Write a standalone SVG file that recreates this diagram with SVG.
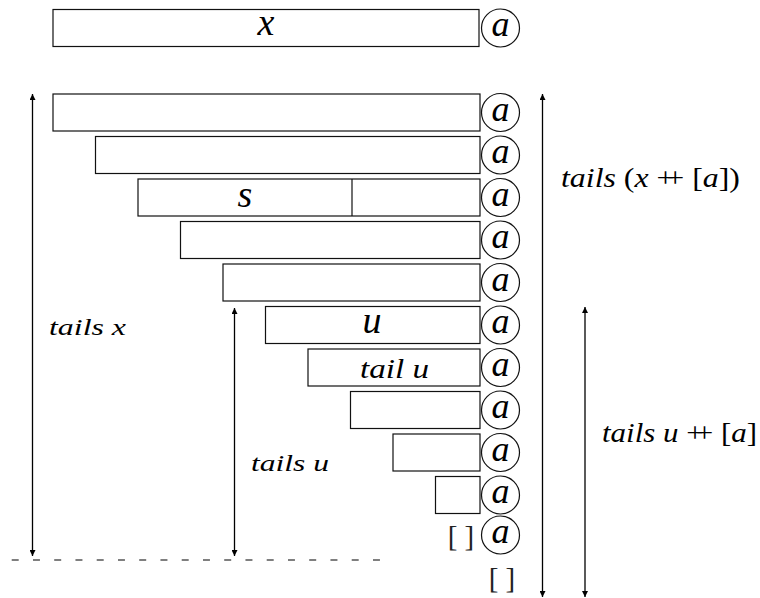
<svg xmlns="http://www.w3.org/2000/svg" width="760" height="598" viewBox="0 0 760 598">
<style>
.box{fill:#fff;stroke:#111;stroke-width:1.2}
.circ{fill:none;stroke:#111;stroke-width:1.2}
.arr{stroke:#000;stroke-width:1.3;fill:none}
</style>
<defs>
<marker id="ah" viewBox="0 0 10 10" refX="10" refY="5" markerWidth="9" markerHeight="6" markerUnits="userSpaceOnUse" orient="auto-start-reverse">
<path d="M0,0 L10,5 L0,10 z" fill="#000"/>
</marker>
</defs>

<g id="top">
<rect class="box" x="53" y="9.5" width="426" height="37"/>
<text x="266" y="35" font-family="Liberation Serif" font-size="38" font-style="italic" text-anchor="middle">x</text>
<circle class="circ" cx="500.5" cy="28" r="19"/>
<text x="500.5" y="36" font-family="Liberation Serif" font-size="36" font-style="italic" text-anchor="middle">a</text>
</g>
<g id="row1">
<rect class="box" x="53" y="94" width="427" height="37"/>
<circle class="circ" cx="500.5" cy="112.5" r="19"/>
<text x="500.5" y="120.5" font-family="Liberation Serif" font-size="36" font-style="italic" text-anchor="middle">a</text>
</g>
<g id="row2">
<rect class="box" x="95.5" y="136.5" width="384.5" height="37"/>
<circle class="circ" cx="500.5" cy="155" r="19"/>
<text x="500.5" y="163" font-family="Liberation Serif" font-size="36" font-style="italic" text-anchor="middle">a</text>
</g>
<g id="row3">
<rect class="box" x="138" y="179" width="342" height="37"/>
<line class="box" x1="352" y1="179" x2="352" y2="216"/>
<text x="245" y="207" font-family="Liberation Serif" font-size="38" font-style="italic" text-anchor="middle">s</text>
<circle class="circ" cx="500.5" cy="197.5" r="19"/>
<text x="500.5" y="205.5" font-family="Liberation Serif" font-size="36" font-style="italic" text-anchor="middle">a</text>
</g>
<g id="row4">
<rect class="box" x="180.5" y="221.5" width="299.5" height="37"/>
<circle class="circ" cx="500.5" cy="240" r="19"/>
<text x="500.5" y="248" font-family="Liberation Serif" font-size="36" font-style="italic" text-anchor="middle">a</text>
</g>
<g id="row5">
<rect class="box" x="223" y="264" width="257" height="37"/>
<circle class="circ" cx="500.5" cy="282.5" r="19"/>
<text x="500.5" y="290.5" font-family="Liberation Serif" font-size="36" font-style="italic" text-anchor="middle">a</text>
</g>
<g id="row6">
<rect class="box" x="265.5" y="306.5" width="214.5" height="37"/>
<text x="372" y="333" font-family="Liberation Serif" font-size="38" font-style="italic" text-anchor="middle">u</text>
<circle class="circ" cx="500.5" cy="325" r="19"/>
<text x="500.5" y="333" font-family="Liberation Serif" font-size="36" font-style="italic" text-anchor="middle">a</text>
</g>
<g id="row7">
<rect class="box" x="308" y="349" width="172" height="37"/>
<text x="360" y="378" font-family="Liberation Serif" font-size="28" font-style="italic" textLength="69" lengthAdjust="spacingAndGlyphs">tail u</text>
<circle class="circ" cx="500.5" cy="367.5" r="19"/>
<text x="500.5" y="375.5" font-family="Liberation Serif" font-size="36" font-style="italic" text-anchor="middle">a</text>
</g>
<g id="row8">
<rect class="box" x="350.5" y="391.5" width="129.5" height="37"/>
<circle class="circ" cx="500.5" cy="410" r="19"/>
<text x="500.5" y="418" font-family="Liberation Serif" font-size="36" font-style="italic" text-anchor="middle">a</text>
</g>
<g id="row9">
<rect class="box" x="393" y="434" width="87" height="37"/>
<circle class="circ" cx="500.5" cy="452.5" r="19"/>
<text x="500.5" y="460.5" font-family="Liberation Serif" font-size="36" font-style="italic" text-anchor="middle">a</text>
</g>
<g id="row10">
<rect class="box" x="435.5" y="476.5" width="44.5" height="37"/>
<circle class="circ" cx="500.5" cy="495" r="19"/>
<text x="500.5" y="503" font-family="Liberation Serif" font-size="36" font-style="italic" text-anchor="middle">a</text>
</g>
<g id="row11">
<text x="461" y="546" font-family="Liberation Serif" font-size="29" fill="#222" text-anchor="middle">[ ]</text>
<circle class="circ" cx="500.5" cy="535" r="19"/>
<text x="500.5" y="543" font-family="Liberation Serif" font-size="36" font-style="italic" text-anchor="middle">a</text>
</g>
<g id="row12">
<text x="502" y="588" font-family="Liberation Serif" font-size="29" fill="#222" text-anchor="middle">[ ]</text>
</g>

<g id="connectors">
<line class="arr" x1="32.5" y1="94" x2="32.5" y2="556" marker-start="url(#ah)" marker-end="url(#ah)"/>
<line class="arr" x1="234.5" y1="308" x2="234.5" y2="556" marker-start="url(#ah)" marker-end="url(#ah)"/>
<line class="arr" x1="542.5" y1="94" x2="542.5" y2="597" marker-start="url(#ah)" marker-end="url(#ah)"/>
<line class="arr" x1="585" y1="307" x2="585" y2="597" marker-start="url(#ah)" marker-end="url(#ah)"/>
<line x1="11.7" y1="560" x2="382" y2="560" stroke="#000" stroke-width="1.2" stroke-dasharray="7 14.25"/>
</g>

<g id="labels">
<text x="49" y="335" font-family="Liberation Serif" font-size="23" font-style="italic" textLength="77" lengthAdjust="spacingAndGlyphs">tails x</text>
<text x="251" y="471" font-family="Liberation Serif" font-size="23" font-style="italic" textLength="78" lengthAdjust="spacingAndGlyphs">tails u</text>
<text x="561" y="187" font-family="Liberation Serif" font-size="27" font-style="italic" textLength="179" lengthAdjust="spacingAndGlyphs">tails <tspan font-style="normal">(</tspan>x <tspan font-style="normal" letter-spacing="-7">+</tspan><tspan font-style="normal">+ [</tspan>a<tspan font-style="normal">])</tspan></text>
<text x="602" y="442" font-family="Liberation Serif" font-size="27" font-style="italic" textLength="155" lengthAdjust="spacingAndGlyphs">tails u <tspan font-style="normal" letter-spacing="-7">+</tspan><tspan font-style="normal">+ [</tspan>a<tspan font-style="normal">]</tspan></text>
</g>
</svg>
